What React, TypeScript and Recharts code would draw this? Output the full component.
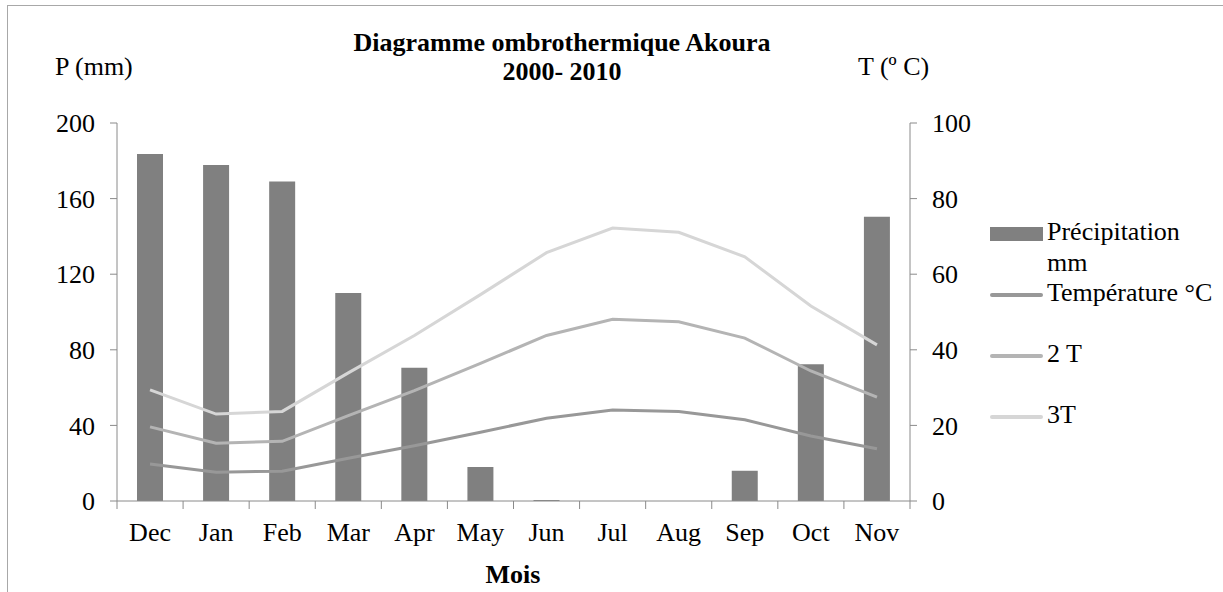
import React from "react";
import {
  ComposedChart,
  Bar,
  Line,
  XAxis,
  YAxis,
} from "recharts";

const months = ["Dec", "Jan", "Feb", "Mar", "Apr", "May", "Jun", "Jul", "Aug", "Sep", "Oct", "Nov"];
const precipitation = [183.6, 177.8, 169, 110, 70.5, 18, 0.5, 0, 0, 16, 72.3, 150.4];
const temperature = [9.8, 7.6, 7.9, 11.3, 14.6, 18.2, 21.9, 24.1, 23.7, 21.5, 17.2, 13.8];
const twoT = [19.6, 15.3, 15.8, 22.6, 29.2, 36.4, 43.8, 48.1, 47.4, 43.1, 34.4, 27.5];
const threeT = [29.4, 23.0, 23.7, 33.9, 43.8, 54.6, 65.7, 72.2, 71.1, 64.6, 51.6, 41.3];
const leftTicks = [0, 40, 80, 120, 160, 200];
const rightTicks = [0, 20, 40, 60, 80, 100];

const seriesNames = ["Précipitation mm", "Température °C", "2 T", "3T"];
const seriesColors = ["#808080", "#989898", "#b4b4b4", "#d6d6d6"];

const data = months.map((m, i) => ({
  month: m,
  p: precipitation[i],
  t: temperature[i],
  t2: twoT[i],
  t3: threeT[i],
}));

const W = 1223;
const H = 592;
const PLOT_LEFT = 117;
const PLOT_RIGHT = 910;
const PLOT_TOP = 123;
const PLOT_BOTTOM = 501;
const AXIS_COLOR = "#8a8a8a";
const FONT = "Liberation Serif";
const TICK_SIZE = 7;
const TICK_MARGIN = 15;
const STEP = (PLOT_RIGHT - PLOT_LEFT) / months.length;

const css = `
#ombro, #ombro div, #ombro svg text, #ombro tspan { font-family: "Liberation Serif", "Times New Roman", serif !important; }
`;

const XTick = (props: any) => {
  const { x, y, payload, index } = props;
  const axisY = y - TICK_SIZE - TICK_MARGIN;
  const last = index === months.length - 1;
  return (
    <g>
      <line x1={x - STEP / 2} x2={x - STEP / 2} y1={axisY} y2={axisY + TICK_SIZE + 1} stroke={AXIS_COLOR} strokeWidth={1} />
      {last && (
        <line x1={x + STEP / 2} x2={x + STEP / 2} y1={axisY} y2={axisY + TICK_SIZE + 1} stroke={AXIS_COLOR} strokeWidth={1} />
      )}
      <text x={x} y={y} dy="0.71em" textAnchor="middle" fill="#000" fontSize={26} fontFamily={FONT}>
        {payload.value}
      </text>
    </g>
  );
};

const YTick = (props: any) => {
  const { x, y, payload, textAnchor } = props;
  return (
    <text x={x} y={y} dy="0.355em" textAnchor={textAnchor} fill="#000" fontSize={26} fontFamily={FONT}>
      {payload.value}
    </text>
  );
};

export default function App() {
  const rowStart = 234;
  const rowGap = 61;
  const textStyle: React.CSSProperties = { fontFamily: FONT, color: "#000", whiteSpace: "nowrap" };
  return (
    <div id="ombro" style={{ position: "absolute", left: 0, top: 0, width: W, height: H, overflow: "hidden", background: "#fff", fontFamily: FONT }}>
      <style>{css}</style>
      <div style={{ position: "absolute", left: 7, top: 5, width: 1400, height: 800, border: "1px solid #a8a8a8", boxSizing: "border-box" }} />
      <div style={{ position: "absolute", left: 0, top: 0 }}>
        <ComposedChart
          width={W}
          height={H}
          data={data}
          margin={{ top: PLOT_TOP, right: W - PLOT_RIGHT - 80, bottom: H - PLOT_BOTTOM - 40, left: 0 }}
          barSize={26}
        >
          <XAxis
            dataKey="month"
            height={40}
            tickLine={false}
            tickSize={TICK_SIZE}
            tickMargin={TICK_MARGIN}
            axisLine={{ stroke: AXIS_COLOR }}
            tick={<XTick />}
            interval={0}
          />
          <YAxis
            yAxisId="left"
            width={PLOT_LEFT}
            domain={[0, 200]}
            ticks={leftTicks}
            tickSize={TICK_SIZE}
            tickMargin={TICK_MARGIN}
            axisLine={{ stroke: AXIS_COLOR }}
            tickLine={{ stroke: AXIS_COLOR }}
            tick={<YTick />}
            interval={0}
          />
          <YAxis
            yAxisId="right"
            orientation="right"
            width={80}
            domain={[0, 100]}
            ticks={rightTicks}
            tickSize={TICK_SIZE}
            tickMargin={TICK_MARGIN}
            axisLine={{ stroke: AXIS_COLOR }}
            tickLine={{ stroke: AXIS_COLOR }}
            tick={<YTick />}
            interval={0}
          />
          <Bar yAxisId="left" dataKey="p" fill={seriesColors[0]} isAnimationActive={false} />
          <Line yAxisId="right" dataKey="t" stroke={seriesColors[1]} strokeWidth={3} dot={false} isAnimationActive={false} />
          <Line yAxisId="right" dataKey="t2" stroke={seriesColors[2]} strokeWidth={3} dot={false} isAnimationActive={false} />
          <Line yAxisId="right" dataKey="t3" stroke={seriesColors[3]} strokeWidth={3} dot={false} isAnimationActive={false} />
        </ComposedChart>
      </div>

      {/* Title */}
      <div style={{ ...textStyle, position: "absolute", left: 312, top: 42 - 14.5, width: 500, textAlign: "center", fontWeight: "bold", fontSize: 26, lineHeight: "29px" }}>
        <div>Diagramme ombrothermique Akoura</div>
        <div>2000- 2010</div>
      </div>

      {/* Axis titles */}
      <div style={{ ...textStyle, position: "absolute", left: 55, top: 67 - 15, fontSize: 26, lineHeight: "30px" }}>P (mm)</div>
      <div style={{ ...textStyle, position: "absolute", left: 858, top: 67 - 15, fontSize: 26, lineHeight: "30px" }}>T (º C)</div>
      <div style={{ ...textStyle, position: "absolute", left: 413, top: 575 - 15, width: 200, textAlign: "center", fontWeight: "bold", fontSize: 26, lineHeight: "30px" }}>Mois</div>

      {/* Legend */}
      {seriesNames.map((name, i) => {
        const cy = rowStart + i * rowGap;
        return (
          <React.Fragment key={name}>
            {i === 0 ? (
              <div style={{ position: "absolute", left: 990, top: cy - 7, width: 53, height: 14, background: seriesColors[i] }} />
            ) : (
              <div style={{ position: "absolute", left: 990, top: cy - 2, width: 53, height: 4, background: seriesColors[i], borderRadius: 2 }} />
            )}
            <div style={{ ...textStyle, whiteSpace: "normal", position: "absolute", left: 1047, top: cy - 3 - 15.5, width: 178, fontSize: 26, lineHeight: "31px" }}>{name}</div>
          </React.Fragment>
        );
      })}
    </div>
  );
}
